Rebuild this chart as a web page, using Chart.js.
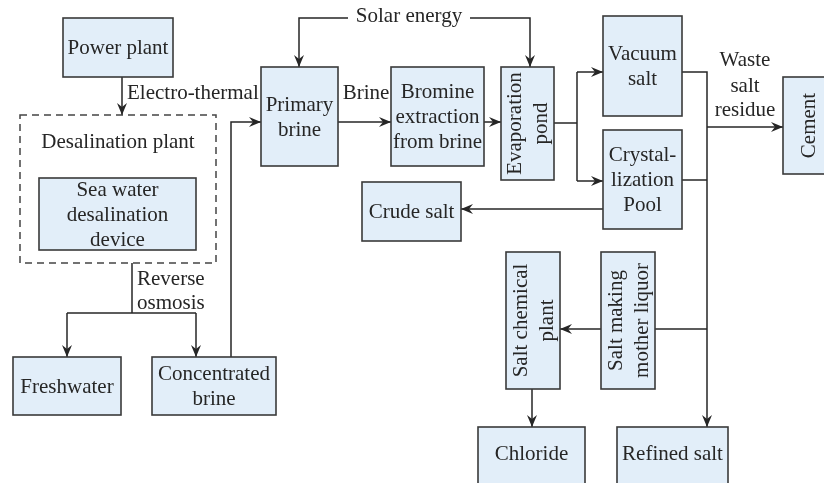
<!DOCTYPE html>
<html>
<head>
<meta charset="utf-8">
<script src="https://cdn.jsdelivr.net/npm/chart.js@4.4.0/dist/chart.umd.min.js"></script>
<style>
  html, body { margin: 0; padding: 0; background: #fff; }
  #wrap { width: 824px; height: 483px; }
</style>
</head>
<body>
<div id="wrap"><canvas id="flow" width="824" height="483"></canvas></div>
<script>
// node boxes (diagram units = pixels of the 824x483 sheet)
const nodeLabels = [
    ['Power plant'],
    ['Sea water', 'desalination', 'device'],
    ['Freshwater'],
    ['Concentrated', 'brine'],
    ['Primary', 'brine'],
    ['Bromine', 'extraction', 'from brine'],
    ['Evaporation', 'pond'],
    ['Vacuum', 'salt'],
    ['Crystal-', 'lization', 'Pool'],
    ['Cement'],
    ['Crude salt'],
    ['Salt chemical', 'plant'],
    ['Salt making', 'mother liquor'],
    ['Chloride'],
    ['Refined salt']
];
const nodeX = [63, 39, 13, 152, 261, 391, 501, 603, 603, 783, 362, 506, 601, 478, 617];
const nodeY = [18, 178, 357, 357, 67, 67, 67, 16, 130, 77, 182, 252, 252, 427, 427];
const nodeW = [110, 157, 108, 124, 77, 93, 53, 79, 79, 50, 99, 54, 54, 107, 111];
const nodeH = [59, 72, 58, 58, 99, 99, 113, 100, 99, 97, 59, 137, 137, 70, 70];
const nodeVertical = [false, false, false, false, false, false, true, false, false, true, false, true, true, false, false];
const nodeTextY = [null, null, null, null, null, null, null, null, null, null, null, null, null, 453, 453];

// dashed group around the desalination device
const groupBox = [20, 115, 196, 148];
const groupLabel = 'Desalination plant';

// connectors: polylines, arrowhead at the last point when flagged
const edgePoints = [
    [[122, 77], [122, 115]],
    [[132, 263], [132, 313]],
    [[67, 313], [196, 313]],
    [[67, 313], [67, 357]],
    [[196, 313], [196, 357]],
    [[231, 357], [231, 122], [261, 122]],
    [[348, 18], [299, 18], [299, 67]],
    [[470, 18], [530, 18], [530, 67]],
    [[338, 122], [391, 122]],
    [[484, 122], [501, 122]],
    [[554, 123], [577, 123]],
    [[577, 72], [577, 181]],
    [[577, 72], [603, 72]],
    [[577, 181], [603, 181]],
    [[682, 72], [707, 72], [707, 427]],
    [[682, 180], [707, 180]],
    [[707, 127], [783, 127]],
    [[603, 209], [461, 209]],
    [[707, 329], [560, 329]],
    [[532, 389], [532, 427]]
];
const edgeArrow = [true, false, false, true, true, true, true, true, true, true, false, false, true, true, true, false, true, true, true, true];

// free labels on the connectors
const noteText = ['Electro-thermal', 'Reverse', 'osmosis', 'Solar energy', 'Brine', 'Waste', 'salt', 'residue'];
const noteX = [127, 137, 137, 409, 366, 745, 745, 745];
const noteY = [93, 279, 303, 16, 93, 60, 86, 110];
const noteAlign = ['left', 'left', 'left', 'center', 'center', 'center', 'center', 'center'];

const FONT = '21px "Liberation Serif", "DejaVu Serif", serif';
const INK = '#262626';
const FILL = '#e2eef9';
const LINE_H = 25;

function drawArrowHead(ctx, x1, y1, x2, y2) {
    const ang = Math.atan2(y2 - y1, x2 - x1);
    const len = 12, half = 5, notch = 8;
    ctx.save();
    ctx.translate(x2, y2);
    ctx.rotate(ang);
    ctx.beginPath();
    ctx.moveTo(0, 0);
    ctx.lineTo(-len, -half);
    ctx.lineTo(-notch, 0);
    ctx.lineTo(-len, half);
    ctx.closePath();
    ctx.fillStyle = INK;
    ctx.fill();
    ctx.restore();
}

const flowPlugin = {
    id: 'flowPlugin',
    afterDatasetsDraw(chart) {
        const ctx = chart.ctx;
        const sx = chart.scales.x, sy = chart.scales.y;
        const px = v => sx.getPixelForValue(v);
        const py = v => sy.getPixelForValue(v);

        ctx.save();
        ctx.lineWidth = 1.5;
        ctx.strokeStyle = INK;
        ctx.lineCap = 'butt';

        // connectors first, boxes cover what passes under them
        edgePoints.forEach((pts, i) => {
            ctx.beginPath();
            pts.forEach((p, k) => {
                if (k === 0) ctx.moveTo(px(p[0]), py(p[1]));
                else ctx.lineTo(px(p[0]), py(p[1]));
            });
            ctx.stroke();
            if (edgeArrow[i]) {
                const a = pts[pts.length - 2], b = pts[pts.length - 1];
                drawArrowHead(ctx, px(a[0]), py(a[1]), px(b[0]), py(b[1]));
            }
        });

        // dashed group
        ctx.setLineDash([7, 5]);
        ctx.strokeStyle = '#444';
        ctx.strokeRect(px(groupBox[0]), py(groupBox[1]),
            px(groupBox[0] + groupBox[2]) - px(groupBox[0]),
            py(groupBox[1] + groupBox[3]) - py(groupBox[1]));
        ctx.setLineDash([]);
        ctx.strokeStyle = INK;

        ctx.font = FONT;
        ctx.fillStyle = INK;
        ctx.textBaseline = 'middle';
        ctx.textAlign = 'center';
        ctx.fillText(groupLabel, px(groupBox[0] + groupBox[2] / 2), py(142));

        // boxes
        nodeLabels.forEach((lines, i) => {
            const x0 = px(nodeX[i]), y0 = py(nodeY[i]);
            const w = px(nodeX[i] + nodeW[i]) - x0;
            const h = py(nodeY[i] + nodeH[i]) - y0;
            ctx.fillStyle = FILL;
            ctx.fillRect(x0, y0, w, h);
            ctx.lineWidth = 1.6;
            ctx.strokeStyle = '#3a3a3a';
            ctx.strokeRect(x0, y0, w, h);

            ctx.fillStyle = INK;
            ctx.font = FONT;
            ctx.textAlign = 'center';
            ctx.textBaseline = 'middle';
            const cx = x0 + w / 2;
            const cy = nodeTextY[i] != null ? py(nodeTextY[i]) : y0 + h / 2;
            const n = lines.length;
            if (nodeVertical[i]) {
                ctx.save();
                ctx.translate(cx, cy);
                ctx.rotate(-Math.PI / 2);
                lines.forEach((t, k) => {
                    ctx.fillText(t, 0, (k - (n - 1) / 2) * 26 + 1);
                });
                ctx.restore();
            } else {
                lines.forEach((t, k) => {
                    ctx.fillText(t, cx, cy + (k - (n - 1) / 2) * LINE_H + 1);
                });
            }
        });

        // free notes
        noteText.forEach((t, i) => {
            ctx.textAlign = noteAlign[i];
            ctx.fillStyle = INK;
            ctx.fillText(t, px(noteX[i]), py(noteY[i]));
        });

        ctx.restore();
    }
};

const centers = nodeLabels.map((_, i) => ({
    x: nodeX[i] + nodeW[i] / 2,
    y: nodeY[i] + nodeH[i] / 2
}));

new Chart(document.getElementById('flow'), {
    type: 'scatter',
    data: {
        datasets: [{
            label: 'nodes',
            data: centers,
            pointRadius: 0,
            pointHoverRadius: 0
        }]
    },
    options: {
        responsive: false,
        animation: false,
        events: [],
        layout: { padding: 0 },
        plugins: {
            legend: { display: false },
            tooltip: { enabled: false }
        },
        scales: {
            x: { type: 'linear', min: 0, max: 824, display: false },
            y: { type: 'linear', min: 0, max: 483, reverse: true, display: false }
        }
    },
    plugins: [flowPlugin]
});
</script>
</body>
</html>
